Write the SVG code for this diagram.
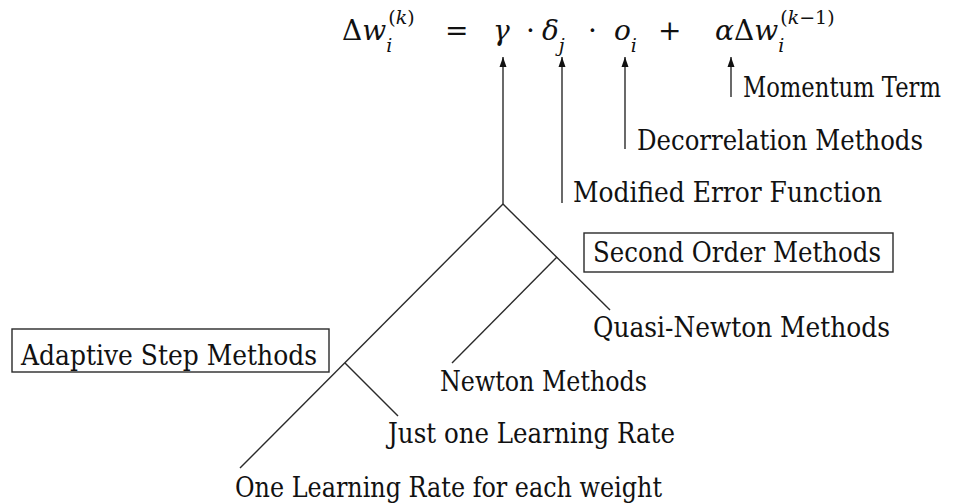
<svg xmlns="http://www.w3.org/2000/svg" width="966" height="503" viewBox="0 0 966 503">
<defs>
<style>
text{font-family:'DejaVu Serif',serif;font-size:28px;fill:#111}
.it{font-style:italic}
.s{font-size:19px}
.ln{stroke:#2a2a2a;stroke-width:1.4;fill:none}
.bx{stroke:#2a2a2a;stroke-width:1.4;fill:none}
</style>
<marker id="ah" markerUnits="userSpaceOnUse" markerWidth="11" markerHeight="8" refX="10" refY="4" orient="auto">
<path d="M0,0.5 L10,4 L0,7.5 z" fill="#111"/>
</marker>
</defs>
<rect width="966" height="503" fill="#fff"/>
<g id="equation">
<text x="342" y="40">Δ<tspan class="it">w</tspan><tspan class="it s" dy="12">i</tspan><tspan class="s" dx="-4" dy="-28">(<tspan class="it">k</tspan>)</tspan></text>
<text x="445" y="40">=</text>
<text class="it" x="493" y="40">γ</text>
<text x="526" y="40">·</text>
<text x="542" y="40"><tspan class="it">δ</tspan><tspan class="it s" dy="12">j</tspan></text>
<text x="588" y="40">·</text>
<text x="614" y="40"><tspan class="it">o</tspan><tspan class="it s" dy="12">i</tspan></text>
<text x="658" y="40">+</text>
<text x="715" y="40"><tspan class="it">α</tspan>Δ<tspan class="it">w</tspan><tspan class="it s" dy="12">i</tspan><tspan class="s" dx="-4" dy="-28">(<tspan class="it">k</tspan>−1)</tspan></text>
</g>
<g id="connectors">
<line class="ln" x1="503" y1="204" x2="503" y2="57" marker-end="url(#ah)"/>
<line class="ln" x1="562" y1="203" x2="562" y2="57" marker-end="url(#ah)"/>
<line class="ln" x1="625" y1="149" x2="625" y2="57" marker-end="url(#ah)"/>
<line class="ln" x1="731" y1="97" x2="731" y2="57" marker-end="url(#ah)"/>
<line class="ln" x1="503" y1="204" x2="240" y2="468"/>
<line class="ln" x1="503" y1="204" x2="610" y2="310"/>
<line class="ln" x1="557" y1="257" x2="452" y2="363"/>
<line class="ln" x1="345" y1="363" x2="398" y2="416"/>
</g>
<g id="momentum"><text transform="translate(743,97) scale(0.81,1)" x="0" y="0">Momentum Term</text></g>
<g id="decorrelation"><text x="637" y="150" textLength="286" lengthAdjust="spacingAndGlyphs">Decorrelation Methods</text></g>
<g id="modified-error"><text x="573" y="202" textLength="309" lengthAdjust="spacingAndGlyphs">Modified Error Function</text></g>
<g id="second-order">
<rect class="bx" x="584" y="233" width="309" height="39"/>
<text x="593" y="262" textLength="288" lengthAdjust="spacingAndGlyphs">Second Order Methods</text>
</g>
<g id="quasi-newton"><text x="593" y="337" textLength="297" lengthAdjust="spacingAndGlyphs">Quasi-Newton Methods</text></g>
<g id="adaptive-step">
<rect class="bx" x="12" y="329" width="317" height="43"/>
<text x="21" y="365" textLength="296" lengthAdjust="spacingAndGlyphs">Adaptive Step Methods</text>
</g>
<g id="newton"><text x="440" y="391" textLength="207" lengthAdjust="spacingAndGlyphs">Newton Methods</text></g>
<g id="just-one"><text x="388" y="443" textLength="287" lengthAdjust="spacingAndGlyphs">Just one Learning Rate</text></g>
<g id="one-per-weight"><text x="235" y="497" textLength="427" lengthAdjust="spacingAndGlyphs">One Learning Rate for each weight</text></g>
</svg>
